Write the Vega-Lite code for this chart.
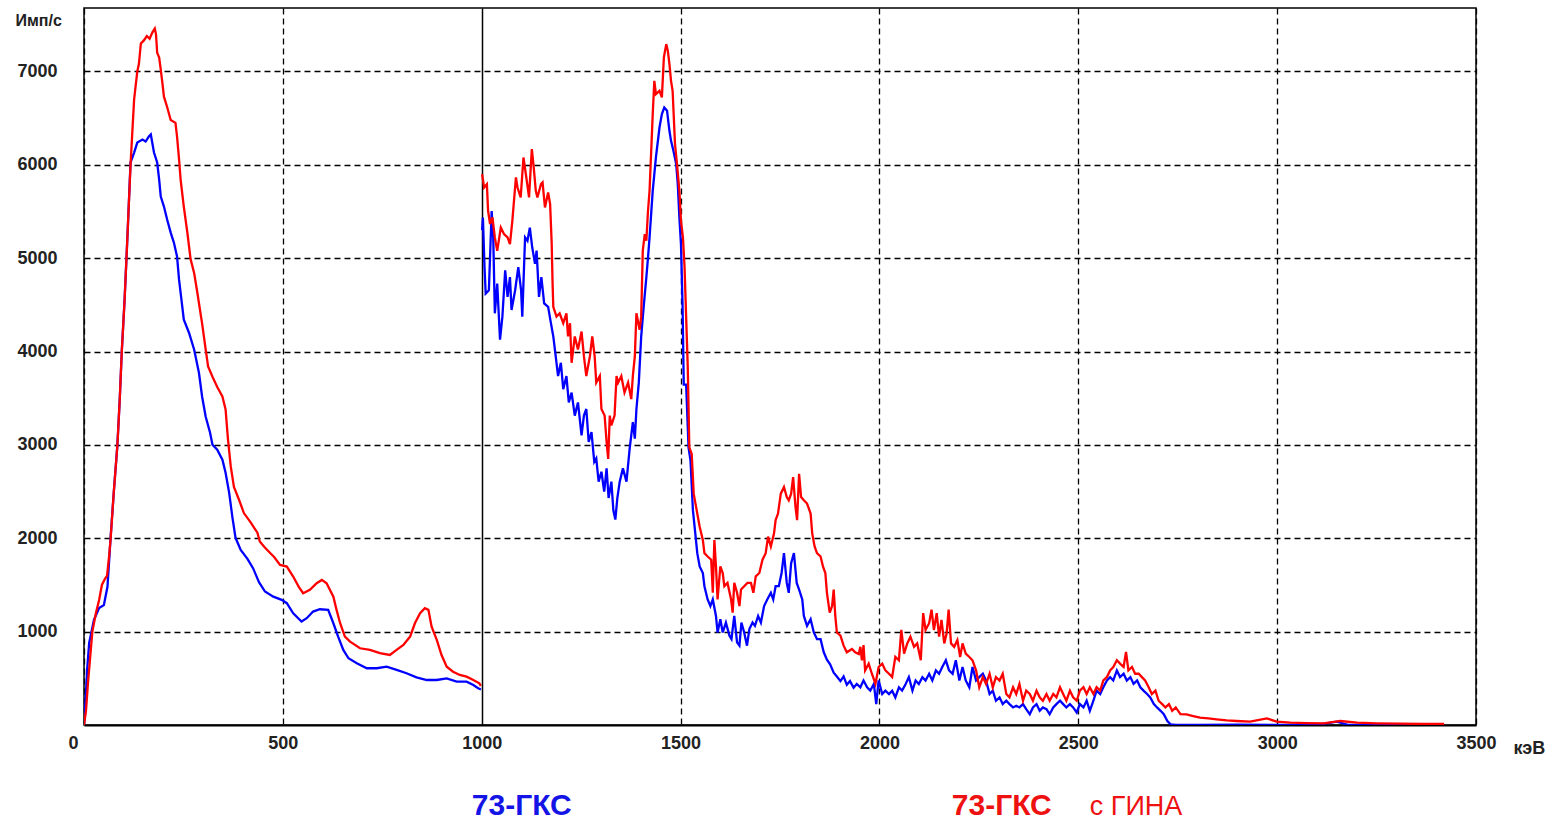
{
  "$schema": "https://vega.github.io/schema/vega-lite/v6.json",
  "width": 1392,
  "height": 717,
  "autosize": {"type": "none"},
  "padding": {"left": 84, "top": 8, "right": 86, "bottom": 95},
  "background": "white",
  "config": {
    "view": {"stroke": "#000", "strokeWidth": 1.5},
    "font": "Liberation Sans"
  },
  "datasets": {
    "gks": [
      {"kev":0,"cps":0},{"kev":4,"cps":270},{"kev":8,"cps":600},{"kev":13,"cps":880},{"kev":25,"cps":1126},{"kev":38,"cps":1254},{"kev":50,"cps":1286},{"kev":59,"cps":1480},{"kev":67,"cps":2015},{"kev":75,"cps":2500},{"kev":84,"cps":3000},{"kev":90,"cps":3500},{"kev":95,"cps":4000},{"kev":102,"cps":4550},{"kev":107,"cps":5020},{"kev":111,"cps":5410},{"kev":117,"cps":6025},{"kev":126,"cps":6132},{"kev":134,"cps":6239},{"kev":147,"cps":6271},{"kev":155,"cps":6250},{"kev":163,"cps":6303},{"kev":168,"cps":6325},{"kev":176,"cps":6132},{"kev":184,"cps":6025},{"kev":189,"cps":5842},{"kev":193,"cps":5660},{"kev":201,"cps":5553},{"kev":209,"cps":5414},{"kev":218,"cps":5274},{"kev":226,"cps":5167},{"kev":234,"cps":5017},{"kev":239,"cps":4770},{"kev":245,"cps":4556},{"kev":251,"cps":4342},{"kev":264,"cps":4202},{"kev":277,"cps":4020},{"kev":289,"cps":3773},{"kev":297,"cps":3516},{"kev":306,"cps":3302},{"kev":317,"cps":3130},{"kev":323,"cps":3002},{"kev":335,"cps":2948},{"kev":348,"cps":2841},{"kev":356,"cps":2701},{"kev":365,"cps":2487},{"kev":373,"cps":2230},{"kev":381,"cps":2005},{"kev":394,"cps":1876},{"kev":411,"cps":1780},{"kev":425,"cps":1680},{"kev":440,"cps":1530},{"kev":455,"cps":1430},{"kev":476,"cps":1375},{"kev":497,"cps":1340},{"kev":510,"cps":1305},{"kev":526,"cps":1197},{"kev":547,"cps":1108},{"kev":560,"cps":1144},{"kev":576,"cps":1215},{"kev":593,"cps":1240},{"kev":614,"cps":1233},{"kev":627,"cps":1090},{"kev":639,"cps":947},{"kev":652,"cps":804},{"kev":665,"cps":715},{"kev":686,"cps":661},{"kev":711,"cps":608},{"kev":736,"cps":608},{"kev":761,"cps":625},{"kev":786,"cps":590},{"kev":811,"cps":554},{"kev":836,"cps":511},{"kev":862,"cps":482},{"kev":887,"cps":482},{"kev":912,"cps":500},{"kev":937,"cps":464},{"kev":962,"cps":464},{"kev":979,"cps":429},{"kev":991,"cps":393},{"kev":998,"cps":380},
      {"kev":1000,"cps":null},
      {"kev":1001,"cps":5300},{"kev":1003,"cps":5435},{"kev":1007,"cps":4905},{"kev":1010,"cps":4622},{"kev":1018,"cps":4657},{"kev":1025,"cps":5505},{"kev":1029,"cps":5223},{"kev":1033,"cps":4410},{"kev":1039,"cps":4728},{"kev":1046,"cps":4127},{"kev":1052,"cps":4374},{"kev":1059,"cps":4869},{"kev":1065,"cps":4586},{"kev":1071,"cps":4798},{"kev":1075,"cps":4445},{"kev":1084,"cps":4657},{"kev":1092,"cps":4905},{"kev":1099,"cps":4657},{"kev":1102,"cps":4374},{"kev":1109,"cps":5223},{"kev":1115,"cps":5187},{"kev":1121,"cps":5328},{"kev":1127,"cps":5117},{"kev":1134,"cps":4940},{"kev":1138,"cps":5081},{"kev":1144,"cps":4586},{"kev":1150,"cps":4798},{"kev":1157,"cps":4516},{"kev":1167,"cps":4480},{"kev":1174,"cps":4304},{"kev":1180,"cps":4162},{"kev":1186,"cps":3950},{"kev":1192,"cps":3738},{"kev":1199,"cps":3880},{"kev":1205,"cps":3597},{"kev":1213,"cps":3738},{"kev":1219,"cps":3455},{"kev":1226,"cps":3561},{"kev":1234,"cps":3314},{"kev":1242,"cps":3455},{"kev":1251,"cps":3102},{"kev":1257,"cps":3314},{"kev":1263,"cps":3385},{"kev":1269,"cps":3031},{"kev":1276,"cps":3137},{"kev":1283,"cps":2819},{"kev":1288,"cps":2855},{"kev":1294,"cps":2607},{"kev":1301,"cps":2713},{"kev":1308,"cps":2501},{"kev":1314,"cps":2749},{"kev":1319,"cps":2431},{"kev":1326,"cps":2607},{"kev":1331,"cps":2300},{"kev":1336,"cps":2200},{"kev":1341,"cps":2431},{"kev":1347,"cps":2607},{"kev":1355,"cps":2749},{"kev":1364,"cps":2607},{"kev":1372,"cps":2961},{"kev":1380,"cps":3244},{"kev":1385,"cps":3067},{"kev":1389,"cps":3385},{"kev":1395,"cps":3667},{"kev":1401,"cps":4162},{"kev":1408,"cps":4516},{"kev":1414,"cps":4798},{"kev":1418,"cps":5000},{"kev":1422,"cps":5222},{"kev":1430,"cps":5722},{"kev":1438,"cps":6079},{"kev":1447,"cps":6400},{"kev":1453,"cps":6543},{"kev":1459,"cps":6614},{"kev":1466,"cps":6579},{"kev":1472,"cps":6365},{"kev":1476,"cps":6257},{"kev":1482,"cps":6150},{"kev":1489,"cps":6008},{"kev":1493,"cps":5793},{"kev":1497,"cps":5436},{"kev":1501,"cps":5151},{"kev":1505,"cps":4500},{"kev":1508,"cps":3646},{"kev":1514,"cps":3646},{"kev":1520,"cps":2973},{"kev":1525,"cps":2832},{"kev":1531,"cps":2301},{"kev":1537,"cps":2053},{"kev":1542,"cps":1841},{"kev":1548,"cps":1699},{"kev":1556,"cps":1628},{"kev":1560,"cps":1487},{"kev":1568,"cps":1345},{"kev":1575,"cps":1274},{"kev":1581,"cps":1345},{"kev":1589,"cps":1168},{"kev":1593,"cps":991},{"kev":1600,"cps":1133},{"kev":1606,"cps":991},{"kev":1614,"cps":1097},{"kev":1623,"cps":956},{"kev":1628,"cps":920},{"kev":1635,"cps":1168},{"kev":1642,"cps":885},{"kev":1648,"cps":850},{"kev":1653,"cps":1097},{"kev":1660,"cps":991},{"kev":1667,"cps":850},{"kev":1673,"cps":1027},{"kev":1681,"cps":1097},{"kev":1687,"cps":1062},{"kev":1695,"cps":1168},{"kev":1702,"cps":1097},{"kev":1710,"cps":1274},{"kev":1718,"cps":1345},{"kev":1727,"cps":1416},{"kev":1733,"cps":1345},{"kev":1739,"cps":1487},{"kev":1747,"cps":1487},{"kev":1754,"cps":1628},{"kev":1760,"cps":1841},{"kev":1767,"cps":1522},{"kev":1772,"cps":1416},{"kev":1778,"cps":1734},{"kev":1785,"cps":1841},{"kev":1792,"cps":1522},{"kev":1798,"cps":1451},{"kev":1806,"cps":1345},{"kev":1810,"cps":1168},{"kev":1818,"cps":1062},{"kev":1827,"cps":1133},{"kev":1835,"cps":991},{"kev":1843,"cps":920},{"kev":1852,"cps":920},{"kev":1860,"cps":779},{"kev":1868,"cps":700},{"kev":1876,"cps":650},{"kev":1885,"cps":560},{"kev":1893,"cps":520},{"kev":1902,"cps":470},{"kev":1910,"cps":520},{"kev":1918,"cps":430},{"kev":1926,"cps":470},{"kev":1935,"cps":400},{"kev":1943,"cps":440},{"kev":1952,"cps":404},{"kev":1960,"cps":477},{"kev":1969,"cps":404},{"kev":1977,"cps":368},{"kev":1986,"cps":440},{"kev":1992,"cps":224},{"kev":1998,"cps":477},{"kev":2007,"cps":332},{"kev":2015,"cps":368},{"kev":2024,"cps":332},{"kev":2032,"cps":368},{"kev":2040,"cps":296},{"kev":2049,"cps":404},{"kev":2057,"cps":368},{"kev":2066,"cps":440},{"kev":2074,"cps":513},{"kev":2083,"cps":368},{"kev":2091,"cps":477},{"kev":2099,"cps":440},{"kev":2108,"cps":513},{"kev":2116,"cps":477},{"kev":2125,"cps":549},{"kev":2133,"cps":477},{"kev":2142,"cps":585},{"kev":2150,"cps":549},{"kev":2158,"cps":621},{"kev":2167,"cps":693},{"kev":2175,"cps":585},{"kev":2184,"cps":549},{"kev":2192,"cps":693},{"kev":2201,"cps":477},{"kev":2209,"cps":621},{"kev":2217,"cps":477},{"kev":2226,"cps":404},{"kev":2234,"cps":621},{"kev":2243,"cps":477},{"kev":2251,"cps":513},{"kev":2260,"cps":549},{"kev":2268,"cps":477},{"kev":2277,"cps":332},{"kev":2285,"cps":368},{"kev":2293,"cps":260},{"kev":2302,"cps":296},{"kev":2310,"cps":224},{"kev":2319,"cps":260},{"kev":2327,"cps":224},{"kev":2336,"cps":188},{"kev":2344,"cps":206},{"kev":2352,"cps":188},{"kev":2361,"cps":224},{"kev":2369,"cps":170},{"kev":2378,"cps":116},{"kev":2386,"cps":188},{"kev":2395,"cps":224},{"kev":2403,"cps":152},{"kev":2411,"cps":188},{"kev":2420,"cps":170},{"kev":2428,"cps":116},{"kev":2437,"cps":188},{"kev":2445,"cps":224},{"kev":2454,"cps":260},{"kev":2462,"cps":224},{"kev":2470,"cps":188},{"kev":2479,"cps":224},{"kev":2487,"cps":188},{"kev":2496,"cps":134},{"kev":2504,"cps":224},{"kev":2513,"cps":188},{"kev":2521,"cps":260},{"kev":2529,"cps":152},{"kev":2538,"cps":260},{"kev":2546,"cps":368},{"kev":2555,"cps":332},{"kev":2563,"cps":404},{"kev":2572,"cps":477},{"kev":2580,"cps":513},{"kev":2588,"cps":477},{"kev":2597,"cps":585},{"kev":2605,"cps":513},{"kev":2614,"cps":549},{"kev":2622,"cps":477},{"kev":2631,"cps":513},{"kev":2639,"cps":440},{"kev":2648,"cps":477},{"kev":2656,"cps":404},{"kev":2664,"cps":368},{"kev":2673,"cps":332},{"kev":2681,"cps":296},{"kev":2690,"cps":224},{"kev":2698,"cps":188},{"kev":2707,"cps":152},{"kev":2715,"cps":116},{"kev":2724,"cps":43},{"kev":2732,"cps":7},{"kev":2745,"cps":0},{"kev":2800,"cps":0},{"kev":2900,"cps":5},{"kev":3000,"cps":0},{"kev":3100,"cps":0},{"kev":3150,"cps":36},{"kev":3180,"cps":0},{"kev":3300,"cps":0},{"kev":3400,"cps":0}
    ],
    "gina": [
      {"kev":0,"cps":0},{"kev":5,"cps":150},{"kev":10,"cps":450},{"kev":15,"cps":700},{"kev":21,"cps":1000},{"kev":30,"cps":1200},{"kev":38,"cps":1340},{"kev":45,"cps":1500},{"kev":52,"cps":1560},{"kev":58,"cps":1600},{"kev":63,"cps":1800},{"kev":67,"cps":2000},{"kev":75,"cps":2500},{"kev":84,"cps":3000},{"kev":90,"cps":3500},{"kev":95,"cps":4000},{"kev":102,"cps":4550},{"kev":107,"cps":5020},{"kev":111,"cps":5410},{"kev":117,"cps":6000},{"kev":126,"cps":6700},{"kev":134,"cps":7000},{"kev":138,"cps":7080},{"kev":143,"cps":7300},{"kev":150,"cps":7330},{"kev":158,"cps":7380},{"kev":165,"cps":7350},{"kev":172,"cps":7420},{"kev":178,"cps":7460},{"kev":181,"cps":7400},{"kev":184,"cps":7200},{"kev":189,"cps":7150},{"kev":193,"cps":7020},{"kev":197,"cps":6880},{"kev":201,"cps":6730},{"kev":209,"cps":6620},{"kev":218,"cps":6480},{"kev":230,"cps":6450},{"kev":234,"cps":6300},{"kev":239,"cps":6060},{"kev":243,"cps":5840},{"kev":251,"cps":5550},{"kev":260,"cps":5270},{"kev":268,"cps":4990},{"kev":277,"cps":4840},{"kev":285,"cps":4630},{"kev":297,"cps":4300},{"kev":306,"cps":4020},{"kev":312,"cps":3840},{"kev":323,"cps":3730},{"kev":335,"cps":3620},{"kev":348,"cps":3520},{"kev":356,"cps":3380},{"kev":362,"cps":3060},{"kev":369,"cps":2770},{"kev":377,"cps":2550},{"kev":390,"cps":2410},{"kev":402,"cps":2270},{"kev":419,"cps":2170},{"kev":436,"cps":2060},{"kev":442,"cps":1965},{"kev":453,"cps":1910},{"kev":468,"cps":1843},{"kev":478,"cps":1800},{"kev":493,"cps":1715},{"kev":510,"cps":1697},{"kev":526,"cps":1590},{"kev":540,"cps":1480},{"kev":551,"cps":1412},{"kev":568,"cps":1447},{"kev":585,"cps":1519},{"kev":598,"cps":1554},{"kev":610,"cps":1519},{"kev":627,"cps":1375},{"kev":635,"cps":1233},{"kev":644,"cps":1090},{"kev":656,"cps":947},{"kev":669,"cps":893},{"kev":694,"cps":822},{"kev":719,"cps":804},{"kev":744,"cps":769},{"kev":769,"cps":750},{"kev":786,"cps":804},{"kev":803,"cps":858},{"kev":820,"cps":947},{"kev":832,"cps":1090},{"kev":845,"cps":1197},{"kev":857,"cps":1251},{"kev":866,"cps":1233},{"kev":874,"cps":1054},{"kev":887,"cps":911},{"kev":899,"cps":750},{"kev":912,"cps":625},{"kev":928,"cps":571},{"kev":945,"cps":536},{"kev":962,"cps":518},{"kev":979,"cps":482},{"kev":994,"cps":447},{"kev":998,"cps":420},
      {"kev":1000,"cps":null},
      {"kev":1001,"cps":5900},{"kev":1006,"cps":5757},{"kev":1013,"cps":5793},{"kev":1016,"cps":5508},{"kev":1021,"cps":5365},{"kev":1027,"cps":5436},{"kev":1033,"cps":5222},{"kev":1039,"cps":5079},{"kev":1048,"cps":5329},{"kev":1056,"cps":5258},{"kev":1065,"cps":5222},{"kev":1071,"cps":5151},{"kev":1077,"cps":5401},{"kev":1086,"cps":5865},{"kev":1090,"cps":5757},{"kev":1098,"cps":5651},{"kev":1105,"cps":6079},{"kev":1111,"cps":5900},{"kev":1119,"cps":5651},{"kev":1126,"cps":6168},{"kev":1130,"cps":6008},{"kev":1136,"cps":5722},{"kev":1140,"cps":5651},{"kev":1149,"cps":5793},{"kev":1153,"cps":5811},{"kev":1159,"cps":5543},{"kev":1167,"cps":5704},{"kev":1172,"cps":5579},{"kev":1176,"cps":5151},{"kev":1178,"cps":4758},{"kev":1180,"cps":4480},{"kev":1188,"cps":4374},{"kev":1196,"cps":4410},{"kev":1205,"cps":4304},{"kev":1213,"cps":4410},{"kev":1217,"cps":4162},{"kev":1222,"cps":4304},{"kev":1226,"cps":3880},{"kev":1234,"cps":4162},{"kev":1242,"cps":4021},{"kev":1251,"cps":4215},{"kev":1257,"cps":3950},{"kev":1263,"cps":3738},{"kev":1272,"cps":3950},{"kev":1278,"cps":4162},{"kev":1284,"cps":3950},{"kev":1288,"cps":3667},{"kev":1297,"cps":3738},{"kev":1301,"cps":3385},{"kev":1309,"cps":3314},{"kev":1314,"cps":3031},{"kev":1318,"cps":2850},{"kev":1322,"cps":3314},{"kev":1326,"cps":3208},{"kev":1334,"cps":3314},{"kev":1339,"cps":3738},{"kev":1343,"cps":3667},{"kev":1351,"cps":3738},{"kev":1359,"cps":3561},{"kev":1368,"cps":3667},{"kev":1376,"cps":3491},{"kev":1380,"cps":3738},{"kev":1385,"cps":3950},{"kev":1389,"cps":4410},{"kev":1397,"cps":4233},{"kev":1401,"cps":4374},{"kev":1405,"cps":5081},{"kev":1410,"cps":5258},{"kev":1414,"cps":5187},{"kev":1418,"cps":5500},{"kev":1422,"cps":5722},{"kev":1430,"cps":6543},{"kev":1434,"cps":6900},{"kev":1438,"cps":6757},{"kev":1447,"cps":6793},{"kev":1453,"cps":6722},{"kev":1458,"cps":7150},{"kev":1464,"cps":7293},{"kev":1468,"cps":7221},{"kev":1472,"cps":7079},{"kev":1476,"cps":6900},{"kev":1480,"cps":6793},{"kev":1486,"cps":6222},{"kev":1491,"cps":6008},{"kev":1497,"cps":5722},{"kev":1501,"cps":5401},{"kev":1506,"cps":5222},{"kev":1510,"cps":4904},{"kev":1514,"cps":4374},{"kev":1518,"cps":3844},{"kev":1522,"cps":2973},{"kev":1528,"cps":2903},{"kev":1533,"cps":2478},{"kev":1539,"cps":2336},{"kev":1548,"cps":2124},{"kev":1556,"cps":1982},{"kev":1560,"cps":1841},{"kev":1568,"cps":1805},{"kev":1577,"cps":1770},{"kev":1581,"cps":1416},{"kev":1585,"cps":1982},{"kev":1589,"cps":1699},{"kev":1593,"cps":1345},{"kev":1600,"cps":1699},{"kev":1606,"cps":1628},{"kev":1610,"cps":1487},{"kev":1618,"cps":1522},{"kev":1627,"cps":1345},{"kev":1631,"cps":1204},{"kev":1635,"cps":1522},{"kev":1642,"cps":1416},{"kev":1648,"cps":1274},{"kev":1652,"cps":1451},{"kev":1660,"cps":1487},{"kev":1668,"cps":1522},{"kev":1677,"cps":1522},{"kev":1683,"cps":1416},{"kev":1689,"cps":1593},{"kev":1698,"cps":1628},{"kev":1706,"cps":1770},{"kev":1714,"cps":1841},{"kev":1720,"cps":2018},{"kev":1727,"cps":1912},{"kev":1735,"cps":2053},{"kev":1739,"cps":2195},{"kev":1745,"cps":2265},{"kev":1752,"cps":2478},{"kev":1760,"cps":2549},{"kev":1767,"cps":2442},{"kev":1772,"cps":2407},{"kev":1778,"cps":2478},{"kev":1783,"cps":2655},{"kev":1789,"cps":2336},{"kev":1793,"cps":2195},{"kev":1798,"cps":2690},{"kev":1803,"cps":2442},{"kev":1810,"cps":2407},{"kev":1818,"cps":2372},{"kev":1827,"cps":2265},{"kev":1831,"cps":2053},{"kev":1837,"cps":1912},{"kev":1843,"cps":1841},{"kev":1852,"cps":1805},{"kev":1858,"cps":1699},{"kev":1864,"cps":1628},{"kev":1868,"cps":1416},{"kev":1875,"cps":1204},{"kev":1881,"cps":1274},{"kev":1885,"cps":1451},{"kev":1889,"cps":1168},{"kev":1893,"cps":991},{"kev":1902,"cps":956},{"kev":1910,"cps":850},{"kev":1918,"cps":779},{"kev":1931,"cps":814},{"kev":1939,"cps":779},{"kev":1948,"cps":760},{"kev":1952,"cps":837},{"kev":1956,"cps":693},{"kev":1960,"cps":855},{"kev":1964,"cps":585},{"kev":1973,"cps":657},{"kev":1981,"cps":549},{"kev":1990,"cps":440},{"kev":1998,"cps":621},{"kev":2007,"cps":657},{"kev":2015,"cps":585},{"kev":2024,"cps":549},{"kev":2032,"cps":513},{"kev":2040,"cps":729},{"kev":2049,"cps":693},{"kev":2055,"cps":1018},{"kev":2062,"cps":765},{"kev":2070,"cps":874},{"kev":2078,"cps":946},{"kev":2087,"cps":837},{"kev":2095,"cps":874},{"kev":2104,"cps":693},{"kev":2110,"cps":1199},{"kev":2116,"cps":1018},{"kev":2125,"cps":1090},{"kev":2131,"cps":1235},{"kev":2137,"cps":1018},{"kev":2144,"cps":1199},{"kev":2150,"cps":946},{"kev":2156,"cps":1126},{"kev":2163,"cps":874},{"kev":2169,"cps":982},{"kev":2174,"cps":1235},{"kev":2180,"cps":874},{"kev":2188,"cps":837},{"kev":2196,"cps":910},{"kev":2203,"cps":729},{"kev":2209,"cps":874},{"kev":2217,"cps":765},{"kev":2226,"cps":729},{"kev":2234,"cps":693},{"kev":2243,"cps":585},{"kev":2251,"cps":404},{"kev":2260,"cps":513},{"kev":2268,"cps":440},{"kev":2277,"cps":549},{"kev":2285,"cps":404},{"kev":2293,"cps":513},{"kev":2302,"cps":477},{"kev":2310,"cps":549},{"kev":2319,"cps":332},{"kev":2327,"cps":296},{"kev":2336,"cps":404},{"kev":2344,"cps":332},{"kev":2352,"cps":440},{"kev":2361,"cps":260},{"kev":2369,"cps":368},{"kev":2378,"cps":332},{"kev":2386,"cps":260},{"kev":2395,"cps":368},{"kev":2403,"cps":296},{"kev":2411,"cps":260},{"kev":2420,"cps":332},{"kev":2428,"cps":260},{"kev":2437,"cps":332},{"kev":2445,"cps":296},{"kev":2454,"cps":404},{"kev":2462,"cps":332},{"kev":2470,"cps":260},{"kev":2479,"cps":368},{"kev":2487,"cps":296},{"kev":2496,"cps":260},{"kev":2504,"cps":368},{"kev":2513,"cps":404},{"kev":2521,"cps":332},{"kev":2529,"cps":404},{"kev":2538,"cps":332},{"kev":2546,"cps":404},{"kev":2555,"cps":368},{"kev":2563,"cps":477},{"kev":2572,"cps":513},{"kev":2580,"cps":585},{"kev":2588,"cps":621},{"kev":2597,"cps":693},{"kev":2605,"cps":657},{"kev":2614,"cps":621},{"kev":2620,"cps":783},{"kev":2626,"cps":585},{"kev":2635,"cps":621},{"kev":2643,"cps":549},{"kev":2652,"cps":549},{"kev":2660,"cps":513},{"kev":2668,"cps":477},{"kev":2677,"cps":404},{"kev":2685,"cps":332},{"kev":2694,"cps":368},{"kev":2702,"cps":260},{"kev":2711,"cps":224},{"kev":2719,"cps":188},{"kev":2728,"cps":224},{"kev":2736,"cps":152},{"kev":2745,"cps":188},{"kev":2757,"cps":116},{"kev":2772,"cps":114},{"kev":2789,"cps":96},{"kev":2806,"cps":79},{"kev":2827,"cps":71},{"kev":2848,"cps":61},{"kev":2873,"cps":50},{"kev":2898,"cps":43},{"kev":2932,"cps":36},{"kev":2974,"cps":71},{"kev":2999,"cps":36},{"kev":3033,"cps":25},{"kev":3075,"cps":21},{"kev":3117,"cps":18},{"kev":3159,"cps":43},{"kev":3201,"cps":25},{"kev":3251,"cps":18},{"kev":3310,"cps":14},{"kev":3368,"cps":11},{"kev":3420,"cps":11}
    ]
  },
  "layer": [
    {
      "data": {"name": "gks"},
      "mark": {"type": "line", "color": "#0000ff", "strokeWidth": 2.3, "clip": true},
      "encoding": {
        "x": {
          "field": "kev",
          "type": "quantitative",
          "scale": {"domain": [0, 3500], "nice": false, "zero": false},
          "axis": {
            "values": [0, 500, 1000, 1500, 2000, 2500, 3000, 3500],
            "format": "d",
            "grid": true,
            "gridColor": "#000",
            "gridWidth": {"condition": {"test": "datum.value === 1000", "value": 1.5}, "value": 1.3},
            "gridDash": {"condition": {"test": "datum.value === 1000", "value": []}, "value": [6, 4]},
            "ticks": false,
            "domainColor": "#000",
            "domainWidth": 2,
            "labelFont": "Liberation Sans",
            "labelFontWeight": "bold",
            "labelFontSize": 18,
            "labelColor": "#222",
            "labelPadding": 9,
            "labelFlush": false,
            "labelOffset": {"condition": {"test": "datum.value === 0", "value": -11}, "value": 0},
            "title": "кэВ",
            "titleFont": "Liberation Sans",
            "titleFontWeight": "bold",
            "titleFontSize": 18,
            "titleColor": "#222",
            "titleAlign": "left",
            "titleBaseline": "alphabetic",
            "titleX": 1429,
            "titleY": 28
          }
        },
        "y": {
          "field": "cps",
          "type": "quantitative",
          "scale": {"domain": [0, 7680], "nice": false, "zero": true},
          "axis": {
            "values": [1000, 2000, 3000, 4000, 5000, 6000, 7000],
            "format": "d",
            "grid": true,
            "gridColor": "#000",
            "gridWidth": 1.3,
            "gridDash": [6, 4],
            "ticks": false,
            "domain": false,
            "labelFont": "Liberation Sans",
            "labelFontWeight": "bold",
            "labelFontSize": 18,
            "labelColor": "#222",
            "labelPadding": 27,
            "title": "Имп/с",
            "titleFont": "Liberation Sans",
            "titleFontWeight": "bold",
            "titleFontSize": 16,
            "titleColor": "#222",
            "titleAngle": 0,
            "titleAlign": "left",
            "titleBaseline": "alphabetic",
            "titleX": -69,
            "titleY": 17
          }
        }
      }
    },
    {
      "data": {"name": "gina"},
      "mark": {"type": "line", "color": "#ff0000", "strokeWidth": 2.3, "clip": true},
      "encoding": {
        "x": {"field": "kev", "type": "quantitative"},
        "y": {"field": "cps", "type": "quantitative"}
      }
    },
    {
      "data": {"values": [{}]},
      "mark": {"type": "text", "text": "73-ГКС", "color": "#1414e6", "font": "Liberation Sans", "fontWeight": "bold", "fontSize": 30, "align": "left", "baseline": "alphabetic"},
      "encoding": {"x": {"datum": 975}, "y": {"datum": -965}}
    },
    {
      "data": {"values": [{}]},
      "mark": {"type": "text", "text": "73-ГКС", "color": "#ee1111", "font": "Liberation Sans", "fontWeight": "bold", "fontSize": 30, "align": "left", "baseline": "alphabetic"},
      "encoding": {"x": {"datum": 2182}, "y": {"datum": -965}}
    },
    {
      "data": {"values": [{}]},
      "mark": {"type": "text", "text": "с ГИНА", "color": "#ee1111", "font": "Liberation Sans", "fontWeight": "normal", "fontSize": 27, "align": "left", "baseline": "alphabetic"},
      "encoding": {"x": {"datum": 2529}, "y": {"datum": -965}}
    }
  ]
}
